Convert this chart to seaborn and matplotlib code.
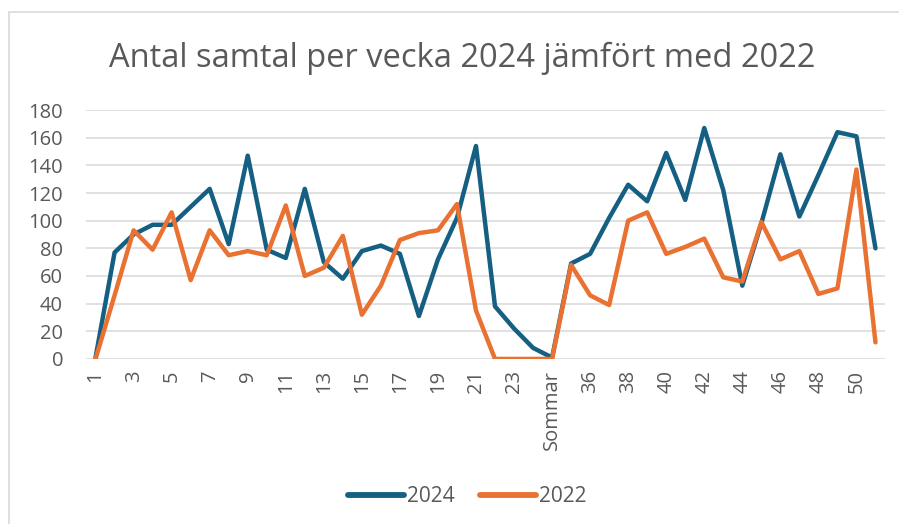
import matplotlib
matplotlib.use("Agg")
import matplotlib.pyplot as plt
import seaborn as sns
import pandas as pd

# week labels (weeks 25-34 are grouped as "Sommar")
weeks = [str(w) for w in range(1, 25)] + ["Sommar"] + [str(w) for w in range(35, 52)]

calls_2024 = [1, 77, 90, 97, 97, 110, 123, 83, 147, 79, 73, 123, 70, 58,
              78, 82, 76, 31, 72, 102, 154, 38, 22, 8, 1,
              69, 76, 102, 126, 114, 149, 115, 167, 122, 53, 98, 148, 103,
              133, 164, 161, 80]
calls_2022 = [0, 46, 93, 79, 106, 57, 93, 75, 78, 75, 111, 60, 66, 89,
              32, 53, 86, 91, 93, 112, 35, 0, 0, 0, 0,
              68, 46, 39, 100, 106, 76, 81, 87, 59, 56, 99, 72, 78,
              47, 51, 137, 12]

df = pd.DataFrame({
    "Vecka": weeks * 2,
    "Samtal": calls_2024 + calls_2022,
    "År": ["2024"] * len(weeks) + ["2022"] * len(weeks),
})

sns.set_style("white")
plt.rcParams["font.family"] = ["Open Sans", "DejaVu Sans"]
text_color = "#595959"

fig = plt.figure(figsize=(8.99, 5.24), dpi=100)
ax = fig.add_axes([0.0957, 0.315, 0.8887, 0.475])

sns.lineplot(data=df, x="Vecka", y="Samtal", hue="År", sort=False,
             palette={"2024": "#156082", "2022": "#E97132"},
             linewidth=3.2, ax=ax, legend=False)

ax.set_ylim(0, 180)
ax.set_yticks(range(0, 181, 20))
ax.set_xlim(-0.5, len(weeks) - 0.5)
ax.set_xticks(range(0, len(weeks), 2))
ax.set_xticklabels(weeks[::2], rotation=90)
ax.grid(axis="y", color="#D9D9D9", linewidth=1.1)
ax.set_axisbelow(True)
for s in ax.spines.values():
    s.set_visible(False)
ax.tick_params(axis="both", length=0, labelsize=14.5, colors=text_color)
ax.tick_params(axis="x", pad=8)
ax.tick_params(axis="y", pad=16.5)
ax.set_xlabel("")
ax.set_ylabel("")

fig.text(0.514, 0.8727, "Antal samtal per vecka 2024 jämfört med 2022",
         ha="center", va="baseline", fontsize=23.5, color=text_color)

handles = [plt.Line2D([], [], color="#156082", linewidth=4.2, solid_capstyle="round"),
           plt.Line2D([], [], color="#E97132", linewidth=4.2, solid_capstyle="round")]
fig.legend(handles, ["2024", "2022"], loc="center", bbox_to_anchor=(0.52, 0.052),
           ncol=2, frameon=False, fontsize=15, labelcolor=text_color,
           handlelength=2.7, handletextpad=0.15, columnspacing=1.2)

# chart-area frame (top and left edges visible in the reference)
x0, y0 = 9 / 899, 1 - 12 / 524
fig.add_artist(plt.Line2D([x0, 1], [y0, y0], transform=fig.transFigure,
                          color="#D9D9D9", linewidth=1.2))
fig.add_artist(plt.Line2D([x0, x0], [0, y0], transform=fig.transFigure,
                          color="#D9D9D9", linewidth=1.2))

fig.savefig("out.png", dpi=100)
